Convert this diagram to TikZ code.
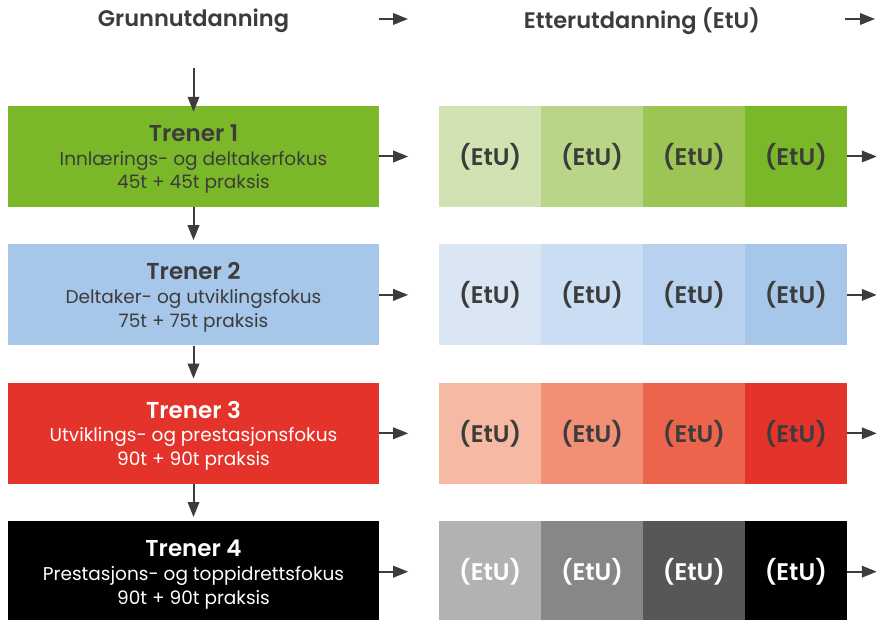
\documentclass[tikz,border=0pt]{standalone}
\usepackage{fontspec}
\IfFontExistsTF{Poppins SemiBold}
  {\setmainfont{Poppins}[BoldFont={Poppins SemiBold}]}
  {\setmainfont{Poppins}}
\usepackage{xcolor}
\usetikzlibrary{arrows.meta,positioning,calc}

\definecolor{txt}{HTML}{3C3C3B}
\definecolor{grA}{HTML}{D2E3B3}
\definecolor{grB}{HTML}{B8D588}
\definecolor{grC}{HTML}{9DC555}
\definecolor{grD}{HTML}{7AB82A}
\definecolor{blA}{HTML}{DAE6F4}
\definecolor{blB}{HTML}{CADDF2}
\definecolor{blC}{HTML}{B8D1EE}
\definecolor{blD}{HTML}{A6C6EA}
\definecolor{rdA}{HTML}{F6B9A3}
\definecolor{rdB}{HTML}{F29077}
\definecolor{rdC}{HTML}{EC644B}
\definecolor{rdD}{HTML}{E3332A}
\definecolor{gyA}{HTML}{B2B2B2}
\definecolor{gyB}{HTML}{878787}
\definecolor{gyC}{HTML}{575756}
\definecolor{gyD}{HTML}{000000}
\newcommand{\trener}[1]{\rule{0pt}{22pt}{\fontsize{23}{24}\selectfont\bfseries #1}}

\begin{document}
\begin{tikzpicture}[x=1pt,y=1pt,font=\fontsize{18.5}{23.8}\selectfont,text=txt,
  node distance=37pt and 60pt,
  box/.style={align=center,inner sep=0pt,minimum width=371pt,minimum height=101pt},
  cell/.style={inner sep=0pt,minimum width=101.5pt,minimum height=101pt,font=\fontsize{24}{24}\selectfont\bfseries},
  head/.style={font=\fontsize{22.5}{24}\selectfont\bfseries},
  arr/.style={-{Triangle[length=15pt,width=11.5pt]},line width=2pt,draw=txt}]
\useasboundingbox (0,0) rectangle (876,-620);
% headings
\node[head] (grunn) at (193.5,-21) {Grunnutdanning};
\node[head] (etter) at (642,-21) {Etterutdanning (EtU)};
\coordinate (h1) at (379,-19);
\coordinate (h2) at (408,-19);
\coordinate (h3) at (845,-19);
\coordinate (h4) at (875,-19);
\draw[arr] (h1) -- (h2);
\draw[arr] (h3) -- (h4);
% left column
\node[box,fill=grD] (t1) at (193.5,-156.5) {\trener{Trener 1}\\ Innlærings- og deltakerfokus\\ 45t + 45t praksis};
\node[box,fill=blD,below=of t1] (t2) {\trener{Trener 2}\\ Deltaker- og utviklingsfokus\\ 75t + 75t praksis};
\node[box,fill=rdD,text=white,below=of t2] (t3) {\trener{Trener 3}\\ Utviklings- og prestasjonsfokus\\ 90t + 90t praksis};
\node[box,fill=gyD,text=white,below=of t3] (t4) {\trener{Trener 4}\\ Prestasjons- og toppidrettsfokus\\ 90t + 90t praksis};
\coordinate (d0) at (193.5,-68);
\draw[arr] (d0) -- ([yshift=-6pt]t1.north);
\draw[arr] (t1.south) -- ([yshift=4pt]t2.north);
\draw[arr] (t2.south) -- ([yshift=4pt]t3.north);
\draw[arr] (t3.south) -- ([yshift=4pt]t4.north);
% green row
\node[cell,fill=grA,right=of t1] (e11) {(EtU)};
\node[cell,fill=grB,right=0pt of e11] (e12) {(EtU)};
\node[cell,fill=grC,right=0pt of e12] (e13) {(EtU)};
\node[cell,fill=grD,right=0pt of e13] (e14) {(EtU)};
% blue row
\node[cell,fill=blA,right=of t2] (e21) {(EtU)};
\node[cell,fill=blB,right=0pt of e21] (e22) {(EtU)};
\node[cell,fill=blC,right=0pt of e22] (e23) {(EtU)};
\node[cell,fill=blD,right=0pt of e23] (e24) {(EtU)};
% red row
\node[cell,fill=rdA,right=of t3] (e31) {(EtU)};
\node[cell,fill=rdB,right=0pt of e31] (e32) {(EtU)};
\node[cell,fill=rdC,right=0pt of e32] (e33) {(EtU)};
\node[cell,fill=rdD,right=0pt of e33] (e34) {(EtU)};
% grey row
\node[cell,fill=gyA,text=white,right=of t4] (e41) {(EtU)};
\node[cell,fill=gyB,text=white,right=0pt of e41] (e42) {(EtU)};
\node[cell,fill=gyC,text=white,right=0pt of e42] (e43) {(EtU)};
\node[cell,fill=gyD,text=white,right=0pt of e43] (e44) {(EtU)};
% arrows out
\coordinate[right=29pt of t1.east] (a1);
\coordinate[right=29pt of t2.east] (a2);
\coordinate[right=29pt of t3.east] (a3);
\coordinate[right=29pt of t4.east] (a4);
\coordinate[right=30pt of e14.east] (b1);
\coordinate[right=30pt of e24.east] (b2);
\coordinate[right=30pt of e34.east] (b3);
\coordinate[right=30pt of e44.east] (b4);
\draw[arr] (t1) -- (a1);
\draw[arr] (t2) -- (a2);
\draw[arr] (t3) -- (a3);
\draw[arr] (t4) -- (a4);
\draw[arr] (e14) -- (b1);
\draw[arr] (e24) -- (b2);
\draw[arr] (e34) -- (b3);
\draw[arr] (e44) -- (b4);
\end{tikzpicture}
\end{document}
